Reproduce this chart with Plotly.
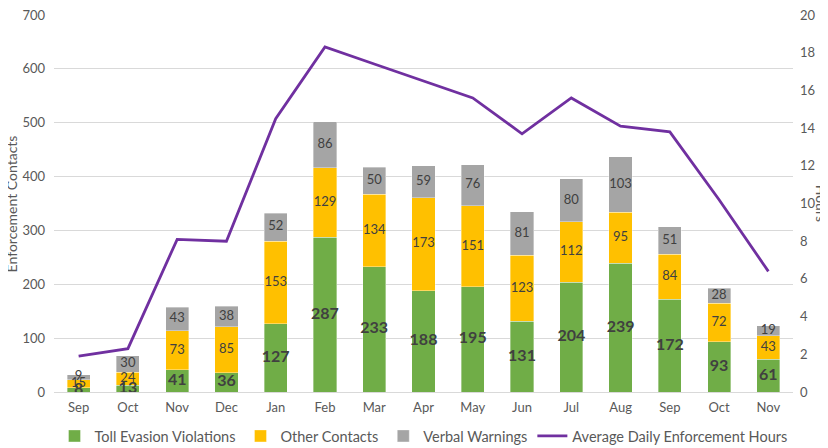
import plotly.graph_objects as go
import numpy as np

months = ["Sep", "Oct", "Nov", "Dec", "Jan", "Feb", "Mar", "Apr", "May", "Jun", "Jul", "Aug", "Sep", "Oct", "Nov"]
toll = [8, 13, 41, 36, 127, 287, 233, 188, 195, 131, 204, 239, 172, 93, 61]
other = [15, 24, 73, 85, 153, 129, 134, 173, 151, 123, 112, 95, 84, 72, 43]
verbal = [9, 30, 43, 38, 52, 86, 50, 59, 76, 81, 80, 103, 51, 28, 19]
hours = [1.9, 2.3, 8.1, 8.0, 14.5, 18.3, 17.4, 16.5, 15.6, 13.7, 15.6, 14.1, 13.8, 10.2, 6.4]

FONT = "Lato"
TXT = "#595959"
idx = list(range(len(months)))

fig = go.Figure()
series = [("Toll Evasion Violations", toll, "#70AD47"),
          ("Other Contacts", other, "#FFC000"),
          ("Verbal Warnings", verbal, "#A5A5A5")]
for name, vals, col in series:
    fig.add_trace(go.Bar(x=idx, y=vals, name=name,
                         marker=dict(color=col, line=dict(width=0.6, color="rgba(255,255,255,0.6)")),
                         yaxis="y"))

fig.add_trace(go.Scatter(x=idx, y=hours, name="Average Daily Enforcement Hours", mode="lines",
                         line=dict(color="#7030A0", width=2.8), yaxis="y2"))

# data labels centered in each segment
t = np.array(toll); o = np.array(other); v = np.array(verbal)
fig.add_trace(go.Scatter(x=idx, y=t / 2, text=[str(a) for a in toll], mode="text", showlegend=False,
                         textfont=dict(family=FONT, size=16, color="#404040", weight="bold"),
                         yaxis="y", hoverinfo="skip"))
fig.add_trace(go.Scatter(x=idx, y=t + o / 2, text=[str(a) for a in other], mode="text", showlegend=False,
                         textfont=dict(family=FONT, size=13, color="#404040"), yaxis="y", hoverinfo="skip"))
fig.add_trace(go.Scatter(x=idx, y=t + o + v / 2, text=[str(a) for a in verbal], mode="text", showlegend=False,
                         textfont=dict(family=FONT, size=13, color="#404040"), yaxis="y", hoverinfo="skip"))

fig.update_layout(
    barmode="stack",
    bargap=0.53,
    width=828, height=448,
    margin=dict(l=46, r=43, t=7, b=64, autoexpand=False),
    paper_bgcolor="white", plot_bgcolor="white",
    font=dict(family=FONT, color=TXT, size=13),
    xaxis=dict(tickmode="array", tickvals=idx, ticktext=months, range=[-0.5, len(months) - 0.5],
               showgrid=False, showline=True, linecolor="#D9D9D9", linewidth=1, ticks="",
               tickfont=dict(size=13, color=TXT), automargin=False, ticklabelstandoff=3),
    yaxis=dict(range=[0, 700], dtick=100, showgrid=True, gridcolor="#D9D9D9", gridwidth=1, zeroline=False,
               ticks="", tickfont=dict(size=13, color=TXT), automargin=False, ticklabeloverflow="allow",
               ticklabelstandoff=8),
    yaxis2=dict(range=[0, 20], dtick=2, overlaying="y", side="right", showgrid=False, zeroline=False,
                ticks="", tickfont=dict(size=13, color=TXT), automargin=False, ticklabeloverflow="allow",
                ticklabelstandoff=6),
    legend=dict(orientation="h", x=0.5, xanchor="center",
                y=(384 - 428) / 377, yanchor="middle",
                font=dict(size=14.5, color=TXT), traceorder="normal", itemwidth=30),
    annotations=[
        dict(text="Enforcement Contacts", xref="paper", yref="paper", x=-0.057, y=0.5, xanchor="center",
             yanchor="middle", textangle=-90, showarrow=False, font=dict(size=14, color=TXT)),
        dict(text="Hours", xref="paper", yref="paper", x=1.039, y=0.5, xanchor="center",
             yanchor="middle", textangle=90, showarrow=False, font=dict(size=14, color=TXT)),
    ],
    showlegend=True,
)

fig.write_html("out.html")
